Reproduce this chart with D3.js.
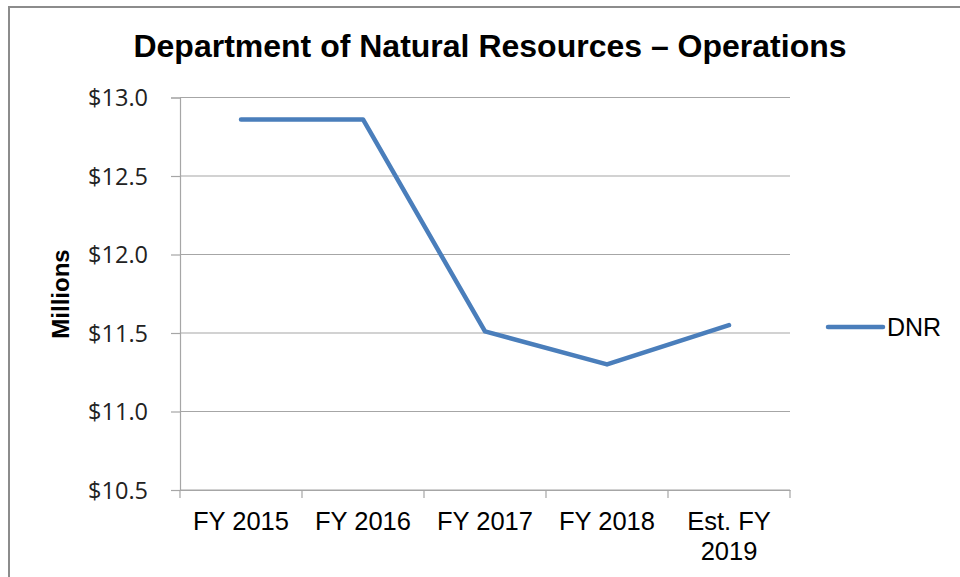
<!DOCTYPE html>
<html>
<head>
<meta charset="utf-8">
<script src="https://cdn.jsdelivr.net/npm/d3@7"></script>
<style>
  body { margin: 0; background: #fff; }
  svg { display: block; }
</style>
</head>
<body>
<svg id="chart"></svg>
<script>
// data
const categories = ["FY 2015", "FY 2016", "FY 2017", "FY 2018", "Est. FY 2019"];
const tickLabels = [["FY 2015"], ["FY 2016"], ["FY 2017"], ["FY 2018"], ["Est. FY", "2019"]];
const dnrValues = [12.86, 12.86, 11.51, 11.30, 11.55];
const yTicks = [10.5, 11.0, 11.5, 12.0, 12.5, 13.0];

const width = 960;
const height = 577;
const plot = { left: 180, right: 790, top: 97.5, bottom: 490 };
const lineColor = "#4a7ebb";

const svg = d3.select("#chart").attr("width", width).attr("height", height);

// outer frame (right and bottom run off the picture)
svg.append("rect")
  .attr("x", 9).attr("y", 7)
  .attr("width", 1000).attr("height", 1000)
  .attr("fill", "none").attr("stroke", "#8c8c8c").attr("stroke-width", 2);

const x = d3.scaleBand().domain(categories).range([plot.left, plot.right]);
const y = d3.scaleLinear().domain([10.5, 13.0]).range([plot.bottom, plot.top]);

// gridlines
svg.append("g").selectAll("line").data(yTicks).enter().append("line")
  .attr("x1", plot.left).attr("x2", plot.right)
  .attr("y1", d => y(d)).attr("y2", d => y(d))
  .attr("stroke", "#a6a6a6").attr("stroke-width", 1.2);

// y axis
const yAxis = d3.axisLeft(y).tickValues(yTicks).tickFormat(d => "$" + d.toFixed(1)).tickSize(9).tickPadding(23);
const gy = svg.append("g").attr("transform", `translate(${plot.left},0)`).call(yAxis);
gy.select(".domain").attr("stroke", "#a6a6a6").attr("stroke-width", 1.2);
gy.selectAll(".tick line").attr("stroke", "#a6a6a6").attr("stroke-width", 1.2);
gy.selectAll(".tick text")
  .attr("font-family", "'Open Sans', sans-serif").attr("font-size", 23.5)
  .attr("fill", "#222").attr("dy", "0.36em");

// x axis
const xAxis = d3.axisBottom(x).tickSize(0).tickPadding(0).tickFormat("");
const gx = svg.append("g").attr("transform", `translate(0,${plot.bottom})`).call(xAxis);
gx.select(".domain").attr("stroke", "#a6a6a6").attr("stroke-width", 1.2);
const bounds = categories.map(c => x(c)).concat([x(categories[categories.length - 1]) + x.bandwidth()]);
gx.selectAll(".bound").data(bounds).enter().append("line")
  .attr("class", "bound")
  .attr("x1", d => d).attr("x2", d => d).attr("y1", 0).attr("y2", 8)
  .attr("stroke", "#a6a6a6").attr("stroke-width", 1.2);
gx.selectAll(".tick").each(function(d, i) {
  const t = d3.select(this).select("text").text(null)
    .attr("font-family", "Arial, 'Liberation Sans', sans-serif").attr("font-size", 25.5)
    .attr("fill", "#000").attr("y", 0).attr("dy", null);
  tickLabels[i].forEach((ln, k) => {
    t.append("tspan").attr("x", 0).attr("y", 40 + k * 30).text(ln);
  });
});

// line
const line = d3.line().x((d, i) => x(categories[i]) + x.bandwidth() / 2).y(d => y(d));
svg.append("path").datum(dnrValues)
  .attr("d", line)
  .attr("fill", "none").attr("stroke", lineColor).attr("stroke-width", 4.5)
  .attr("stroke-linejoin", "round").attr("stroke-linecap", "round");

// title
svg.append("text")
  .attr("x", 490).attr("y", 57).attr("text-anchor", "middle")
  .attr("font-family", "Arial, 'Liberation Sans', sans-serif").attr("font-weight", "bold")
  .attr("font-size", 32).attr("fill", "#000")
  .text("Department of Natural Resources – Operations");

// y title
svg.append("text")
  .attr("transform", "translate(69,294) rotate(-90)").attr("text-anchor", "middle")
  .attr("font-family", "Arial, 'Liberation Sans', sans-serif").attr("font-weight", "bold")
  .attr("font-size", 24).attr("fill", "#000")
  .text("Millions");

// legend
const lg = svg.append("g").attr("transform", "translate(828,327)");
lg.append("line").attr("x1", 0).attr("x2", 55).attr("y1", 0).attr("y2", 0)
  .attr("stroke", lineColor).attr("stroke-width", 4.5).attr("stroke-linecap", "round");
lg.append("text").attr("x", 59).attr("y", 9)
  .attr("font-family", "Arial, 'Liberation Sans', sans-serif").attr("font-size", 25).attr("fill", "#000")
  .text("DNR");
</script>
</body>
</html>
